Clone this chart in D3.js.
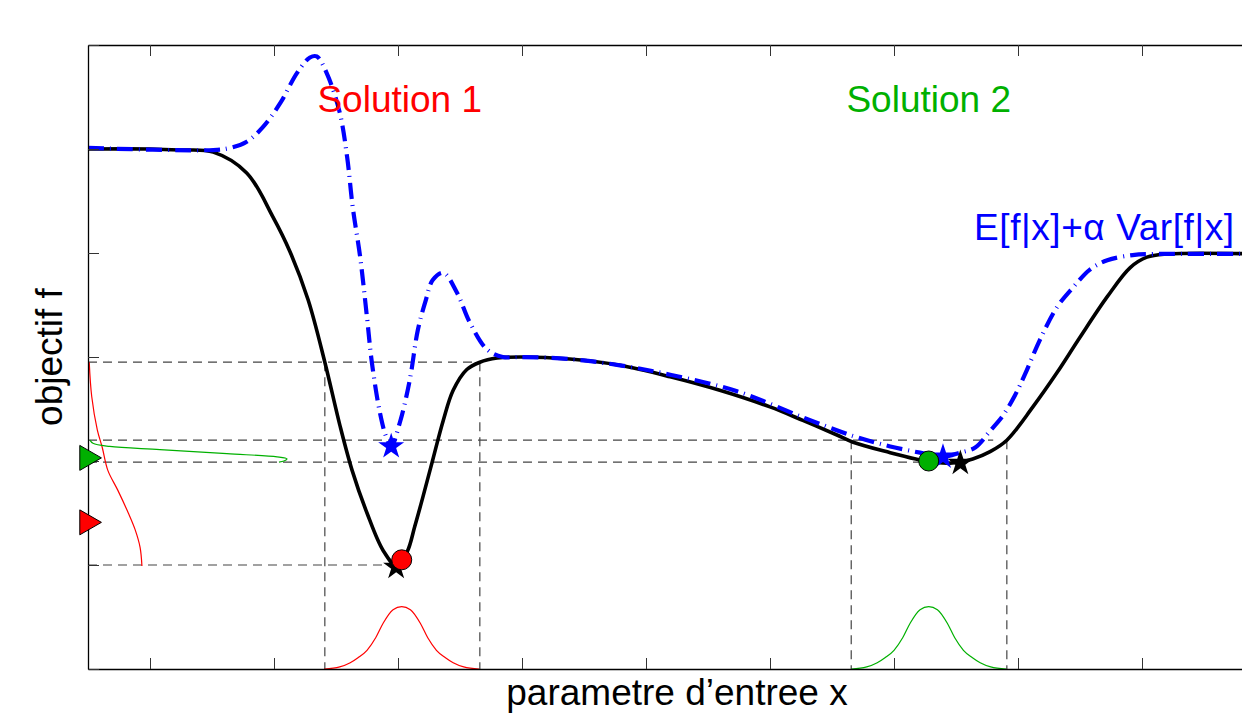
<!DOCTYPE html>
<meta charset="utf-8">
<script src="https://d3js.org/d3.v7.min.js"></script>
<style>
  body { margin: 0; background: #fff; }
  svg { display: block; }
  text { font-family: "Liberation Sans", Arial, Helvetica, sans-serif; }
</style>
<div id="my_dataviz"></div>
<script>
// objective f(x) (x in input units, y in objective units)
var fCurve = [
  [0, 5.0], [1.0, 5.0], [1.48, 4.99], [2.02, 4.97], [2.56, 4.77], [2.98, 4.35],
  [3.26, 4.01], [3.55, 3.55], [3.82, 2.95], [4.06, 2.35], [4.26, 1.91], [4.5, 1.5],
  [4.76, 1.14], [4.98, 0.99], [5.15, 1.13], [5.27, 1.37], [5.4, 1.65],
  [5.56, 2.01], [5.73, 2.39], [5.89, 2.68], [6.11, 2.88], [6.32, 2.95], [6.6, 2.99],
  [6.97, 3.0], [7.77, 2.98], [8.58, 2.92], [9.39, 2.81], [10.19, 2.68], [11.0, 2.52],
  [11.53, 2.39], [12.08, 2.25], [12.34, 2.18], [12.94, 2.08], [13.42, 2.01], [13.9, 1.98],
  [14.27, 2.02], [14.55, 2.09], [14.82, 2.2], [15.24, 2.52], [15.63, 2.85], [16.0, 3.19],
  [16.44, 3.58], [16.81, 3.86], [17.08, 3.96], [17.4, 3.99], [19, 3.99]
];

// robust criterion E[f|x] + alpha Var[f|x]
var robustCurve = [
  [0, 5.01], [2.02, 4.99], [2.29, 5.01], [2.56, 5.07], [2.82, 5.21], [3.1, 5.44],
  [3.37, 5.73], [3.58, 5.88], [3.69, 5.89], [3.85, 5.73], [4.06, 5.35], [4.18, 4.92],
  [4.27, 4.44], [4.39, 3.96], [4.5, 3.38], [4.58, 2.94], [4.71, 2.46], [4.81, 2.23],
  [4.89, 2.14], [5.03, 2.37], [5.19, 2.78], [5.32, 3.26], [5.45, 3.55], [5.56, 3.74],
  [5.73, 3.81], [5.95, 3.62], [6.16, 3.33], [6.44, 3.07], [6.69, 3.0], [6.97, 3.0],
  [7.77, 2.98], [8.58, 2.92], [9.39, 2.83], [10.47, 2.67], [11.53, 2.42], [12.34, 2.24],
  [12.94, 2.14], [13.42, 2.08], [13.79, 2.04], [14.06, 2.08], [14.31, 2.13], [14.55, 2.29],
  [14.76, 2.44], [14.95, 2.63], [15.11, 2.83], [15.35, 3.16], [15.63, 3.48], [15.89, 3.67],
  [16.16, 3.84], [16.44, 3.93], [16.85, 3.98], [17.18, 3.99], [19, 3.99]
];

// input uncertainty pdf (offset from the solution, height)
var inputPdf = [
  [-1.25, 0], [-1.0, 0.02], [-0.83, 0.06], [-0.7, 0.11], [-0.56, 0.18], [-0.42, 0.3],
  [-0.3, 0.44], [-0.14, 0.57], [0, 0.6], [0.14, 0.57], [0.3, 0.44], [0.42, 0.3],
  [0.56, 0.18], [0.7, 0.11], [0.83, 0.06], [1.0, 0.02], [1.25, 0]
];

// output pdfs drawn against the f axis: [density, f]
var redOutPdf = [
  [0.02, 2.95], [0.06, 2.62], [0.15, 2.3], [0.23, 2.13], [0.32, 1.91], [0.48, 1.72],
  [0.65, 1.5], [0.76, 1.34], [0.84, 1.17], [0.87, 0.99]
];
var greenOutPdf = [
  [0.03, 2.2], [0.08, 2.17], [0.35, 2.14], [1.16, 2.11], [2.24, 2.07], [3.05, 2.04],
  [3.21, 2.02], [3.16, 2.0], [3.08, 1.99]
];

var solutions = ["Solution 1", "Solution 2"];
var solColors = ["#ff0000", "#00b000"];
var solX = [5.06, 13.56];          // chosen x (circles)
var solF = [1.05, 2.0];
var solMeanF = [1.41, 2.03];       // triangles on the f axis
var fMinPts = [[4.97, 0.98], [14.07, 1.98]];      // black stars
var robustMinPts = [[4.89, 2.14], [13.79, 2.04]]; // blue stars

// guide lines
var hGuides = [[2.95, 6.32], [2.2, 14.6], [1.99, 13.56], [1.0, 4.98]]; // [f, x end]
var vGuides = [[3.82, 2.95], [6.32, 2.95], [12.31, 2.2], [14.82, 2.2]]; // [x, f top]

var xTicks = [1, 3, 5, 7, 9, 11, 13, 15, 17];
var yTicks = [0, 1, 2, 3, 4, 5, 6];

var W = 1242, H = 713;
var margin = {top: 45, left: 88, bottom: 44};
var x = d3.scaleLinear().domain([0, 19]).range([margin.left, margin.left + 19 * 62]);
var y = d3.scaleLinear().domain([0, 6]).range([H - margin.bottom, margin.top]);

var svg = d3.select("#my_dataviz").append("svg")
  .attr("width", W).attr("height", H);

// dashed guides
var guideStyle = function(sel) {
  sel.attr("stroke", "#444").attr("stroke-width", 1.2).attr("stroke-dasharray", "9,6").attr("fill", "none");
};
svg.selectAll(".hg").data(hGuides).enter().append("line")
  .attr("x1", x(0)).attr("x2", function(d) { return x(d[1]); })
  .attr("y1", function(d) { return y(d[0]); }).attr("y2", function(d) { return y(d[0]); })
  .call(guideStyle);
svg.selectAll(".vg").data(vGuides).enter().append("line")
  .attr("x1", function(d) { return x(d[0]); }).attr("x2", function(d) { return x(d[0]); })
  .attr("y1", function(d) { return y(d[1]); }).attr("y2", y(0))
  .call(guideStyle);

// input pdfs
var lineXY = d3.line().x(function(d) { return x(d[0]); }).y(function(d) { return y(d[1]); });
solX.forEach(function(cx, i) {
  svg.append("path")
    .datum(inputPdf.map(function(p) { return [cx + p[0], p[1]]; }))
    .attr("d", lineXY.curve(d3.curveMonotoneX))
    .attr("fill", "none").attr("stroke", solColors[i]).attr("stroke-width", 1.2);
});

// output pdfs on the f axis
var lineOut = d3.line().x(function(d) { return x(d[0]); }).y(function(d) { return y(d[1]); })
  .curve(d3.curveCatmullRom);
[redOutPdf, greenOutPdf].forEach(function(pts, i) {
  svg.append("path").datum(pts).attr("d", lineOut)
    .attr("fill", "none").attr("stroke", solColors[i]).attr("stroke-width", 1.2);
});

// curves
var smooth = d3.line().x(function(d) { return x(d[0]); }).y(function(d) { return y(d[1]); })
  .curve(d3.curveCatmullRom.alpha(0.5));
svg.append("path").datum(fCurve)
  .attr("d", smooth)
  .attr("fill", "none").attr("stroke", "#000").attr("stroke-width", 3.6);
svg.append("path").datum(robustCurve)
  .attr("d", smooth)
  .attr("fill", "none").attr("stroke", "#0000ff").attr("stroke-width", 4.2)
  .attr("stroke-dasharray", "16,6,1,6");

// axes (ticks inside, no labels)
var axG = svg.append("g").attr("class", "axes");
axG.append("g").attr("transform", "translate(0," + y(0) + ")")
  .call(d3.axisBottom(x).tickValues(xTicks).tickSize(-11).tickSizeOuter(0).tickFormat(""));
axG.append("g").attr("transform", "translate(0," + y(6) + ")")
  .call(d3.axisTop(x).tickValues(xTicks).tickSize(-11).tickSizeOuter(0).tickFormat(""));
axG.append("g").attr("transform", "translate(" + x(0) + ",0)")
  .call(d3.axisLeft(y).tickValues(yTicks).tickSize(-11).tickSizeOuter(0).tickFormat(""));
axG.selectAll(".domain").attr("stroke", "#000").attr("stroke-width", 1.3);
axG.selectAll(".tick line").attr("stroke", "#333").attr("stroke-width", 1);

// markers
var star = d3.symbol().type(d3.symbolStar).size(210);
svg.selectAll(".fstar").data(fMinPts).enter().append("path")
  .attr("d", star)
  .attr("transform", function(d) { return "translate(" + x(d[0]) + "," + y(d[1]) + ")"; })
  .attr("fill", "#000");
svg.selectAll(".rstar").data(robustMinPts).enter().append("path")
  .attr("d", star)
  .attr("transform", function(d) { return "translate(" + x(d[0]) + "," + y(d[1]) + ")"; })
  .attr("fill", "#0000ff");
svg.selectAll(".sol").data(solX).enter().append("circle")
  .attr("cx", function(d) { return x(d); })
  .attr("cy", function(d, i) { return y(solF[i]); })
  .attr("r", 10)
  .attr("fill", function(d, i) { return solColors[i]; })
  .attr("stroke", "#000").attr("stroke-width", 1);
var tri = d3.symbol().type(d3.symbolTriangle).size(270);
svg.selectAll(".tri").data(solMeanF).enter().append("path")
  .attr("d", tri)
  .attr("transform", function(d) { return "translate(" + (x(0) - 1) + "," + y(d) + ") rotate(90)"; })
  .attr("fill", function(d, i) { return solColors[i]; })
  .attr("stroke", "#000").attr("stroke-width", 1);

// labels
svg.selectAll(".solLabel").data(solutions).enter().append("text")
  .attr("x", function(d, i) { return x(solX[i]) - 2 + i * 2; })
  .attr("y", 112)
  .attr("text-anchor", "middle")
  .attr("font-size", 37)
  .attr("fill", function(d, i) { return solColors[i]; })
  .text(function(d) { return d; });
svg.append("text")
  .attr("x", 1234).attr("y", 240)
  .attr("text-anchor", "end").attr("font-size", 37).attr("fill", "#0000ff")
  .attr("textLength", 260).attr("lengthAdjust", "spacing")
  .text("E[f|x]+\u03b1 Var[f|x]");
svg.append("text")
  .attr("transform", "translate(62," + y(3) + ") rotate(-90)")
  .attr("text-anchor", "middle").attr("font-size", 37).attr("fill", "#000")
  .text("objectif f");
svg.append("text")
  .attr("x", 677).attr("y", 705)
  .attr("text-anchor", "middle").attr("font-size", 37).attr("fill", "#000")
  .text("parametre d\u2019entree x");
</script>
